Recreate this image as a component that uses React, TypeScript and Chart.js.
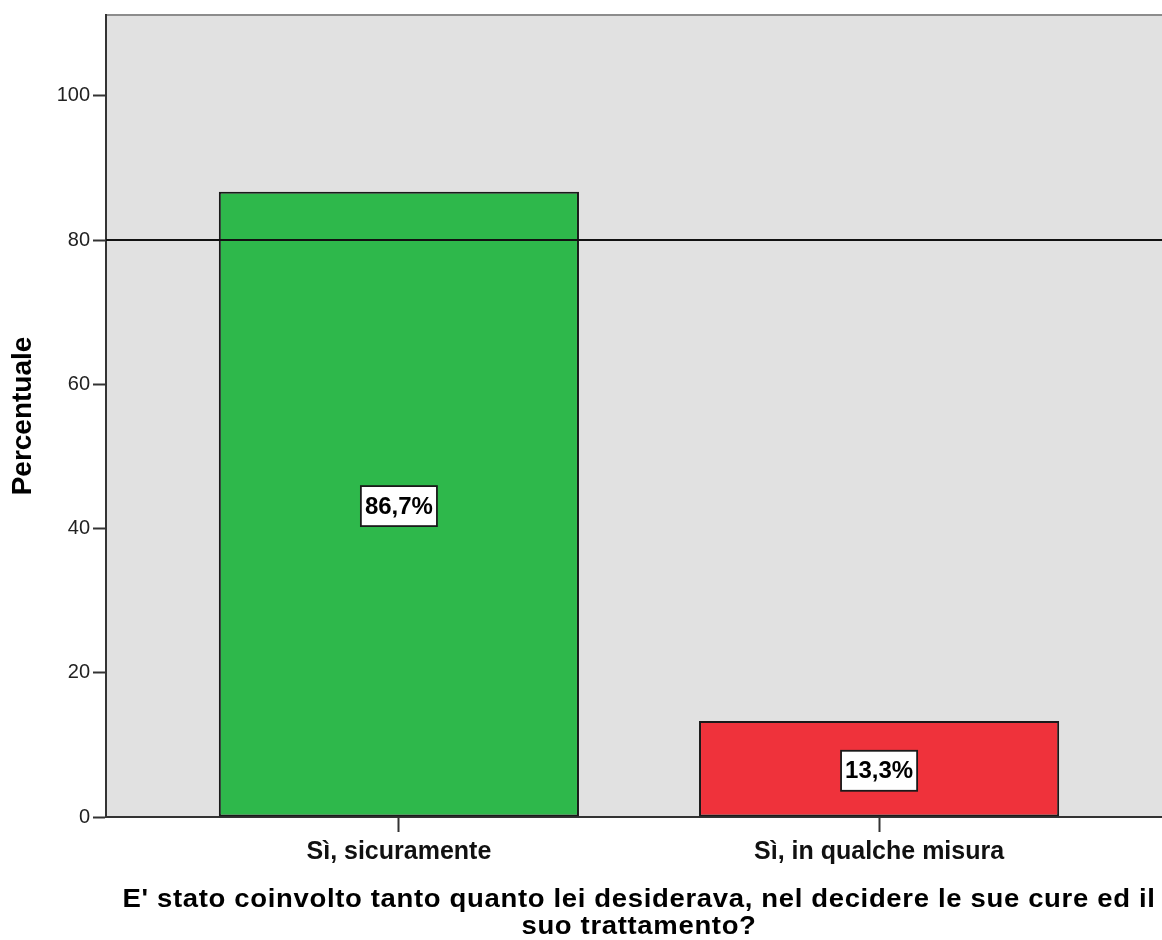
import React, { useEffect, useRef } from "react";
import { Chart, registerables } from "chart.js";

Chart.register(...registerables);

const categories = ["Sì, sicuramente", "Sì, in qualche misura"];
const percentValues = [86.7, 13.3];
const barColors = ["#2eb84b", "#ef323b"];
const yTickValues = [0, 20, 40, 60, 80, 100];
const referenceValue = 80;
const yAxisTitle = "Percentuale";
const xAxisTitle = [
  "E' stato coinvolto tanto quanto lei desiderava, nel decidere le sue cure ed il",
  "suo trattamento?",
];

const FONT = "'Liberation Sans', Arial, sans-serif";

const plotFrame = {
  id: "plotFrame",
  beforeDraw(chart: any) {
    const { ctx, chartArea } = chart;
    ctx.save();
    ctx.fillStyle = "#e1e1e1";
    ctx.fillRect(chartArea.left, chartArea.top, chartArea.right - chartArea.left, chartArea.bottom - chartArea.top);
    ctx.strokeStyle = "#8c8c8c";
    ctx.lineWidth = 2;
    ctx.beginPath();
    ctx.moveTo(chartArea.left, chartArea.top);
    ctx.lineTo(chartArea.right, chartArea.top);
    ctx.stroke();
    ctx.restore();
  },
};

const refLine = {
  id: "refLine",
  afterDatasetsDraw(chart: any) {
    const { ctx, chartArea, scales } = chart;
    const y = scales.y.getPixelForValue(referenceValue);
    ctx.save();
    ctx.strokeStyle = "#111";
    ctx.lineWidth = 2;
    ctx.beginPath();
    ctx.moveTo(chartArea.left, y);
    ctx.lineTo(chartArea.right, y);
    ctx.stroke();
    ctx.restore();
  },
};

const valueLabels = {
  id: "valueLabels",
  afterDraw(chart: any) {
    const { ctx } = chart;
    const meta = chart.getDatasetMeta(0);
    ctx.save();
    ctx.font = `bold 24px ${FONT}`;
    ctx.textAlign = "center";
    ctx.textBaseline = "middle";
    meta.data.forEach((bar: any, i: number) => {
      const text = percentValues[i].toFixed(1).replace(".", ",") + "%";
      const cx = bar.x;
      const cy = (bar.y + bar.base) / 2 + 2;
      const w = ctx.measureText(text).width + 8;
      const h = 40;
      ctx.fillStyle = "#ffffff";
      ctx.fillRect(cx - w / 2, cy - h / 2, w, h);
      ctx.strokeStyle = "#1a1a1a";
      ctx.lineWidth = 1.8;
      ctx.strokeRect(cx - w / 2, cy - h / 2, w, h);
      ctx.fillStyle = "#000";
      ctx.fillText(text, cx, cy + 1);
    });
    ctx.restore();
  },
};

const xTitle = {
  id: "xTitle",
  afterDraw(chart: any) {
    const { ctx, chartArea } = chart;
    const cx = (chartArea.left + chartArea.right) / 2;
    ctx.save();
    ctx.font = `bold 25px ${FONT}`;
    (ctx as any).letterSpacing = "0.6px";
    ctx.textAlign = "center";
    ctx.textBaseline = "alphabetic";
    ctx.fillStyle = "#000";
    xAxisTitle.forEach((line, i) => {
      ctx.save();
      ctx.translate(cx, 907 + i * 27);
      ctx.scale(1.1, 1);
      ctx.fillText(line, 0, 0);
      ctx.restore();
    });
    ctx.restore();
  },
};

export default function App() {
  const canvasRef = useRef<HTMLCanvasElement>(null);

  useEffect(() => {
    if (!canvasRef.current) return;
    const chart = new Chart(canvasRef.current, {
      type: "bar",
      data: {
        datasets: [
          {
            data: categories.map((_, i) => ({ x: i + 1, y: percentValues[i] })),
            backgroundColor: barColors,
            borderColor: "#1a1a1a",
            borderWidth: 2,
            borderSkipped: false,
            barPercentage: 0.75,
            categoryPercentage: 1,
          },
        ],
      },
      options: {
        animation: false,
        responsive: false,
        layout: { padding: { top: 15, left: 0, right: 0, bottom: 0 } },
        plugins: { legend: { display: false }, tooltip: { enabled: false } },
        scales: {
          x: {
            type: "linear",
            min: 0.39,
            max: 2.61,
            offset: false,
            afterBuildTicks: (s: any) => {
              s.ticks = categories.map((_, i) => ({ value: i + 1 }));
            },
            afterFit: (s: any) => {
              s.height = 123;
            },
            grid: {
              offset: false,
              drawOnChartArea: false,
              drawTicks: true,
              tickLength: 15,
              tickColor: "#333",
              tickWidth: 2,
            },
            border: { display: true, color: "#333", width: 2 },
            ticks: {
              autoSkip: false,
              maxRotation: 0,
              padding: 5,
              color: "#111",
              font: { family: FONT, size: 25, weight: "bold" },
              callback: (v: any) => categories[Number(v) - 1] ?? "",
            },
            title: { display: false },
          },
          y: {
            type: "linear",
            min: 0,
            max: 111.2,
            afterBuildTicks: (s: any) => {
              s.ticks = yTickValues.map((v) => ({ value: v }));
            },
            afterFit: (s: any) => {
              s.width = 106;
            },
            grid: {
              drawOnChartArea: false,
              drawTicks: true,
              tickLength: 13,
              tickColor: "#333",
              tickWidth: 2,
            },
            border: { display: true, color: "#333", width: 2 },
            ticks: {
              padding: 3,
              color: "#222",
              font: { family: FONT, size: 20 },
            },
            title: {
              display: true,
              text: yAxisTitle,
              color: "#000",
              font: { family: FONT, size: 28, weight: "bold", lineHeight: 1.2 },
              padding: { top: 6, bottom: 0 },
            },
          },
        },
      },
      plugins: [plotFrame, refLine, valueLabels, xTitle],
    });
    return () => chart.destroy();
  }, []);

  return (
    <div
      style={{
        position: "absolute",
        left: 0,
        top: 0,
        width: 1162,
        height: 940,
        overflow: "hidden",
        background: "#fff",
      }}
    >
      <canvas ref={canvasRef} width={1172} height={940} style={{ display: "block" }} />
    </div>
  );
}
